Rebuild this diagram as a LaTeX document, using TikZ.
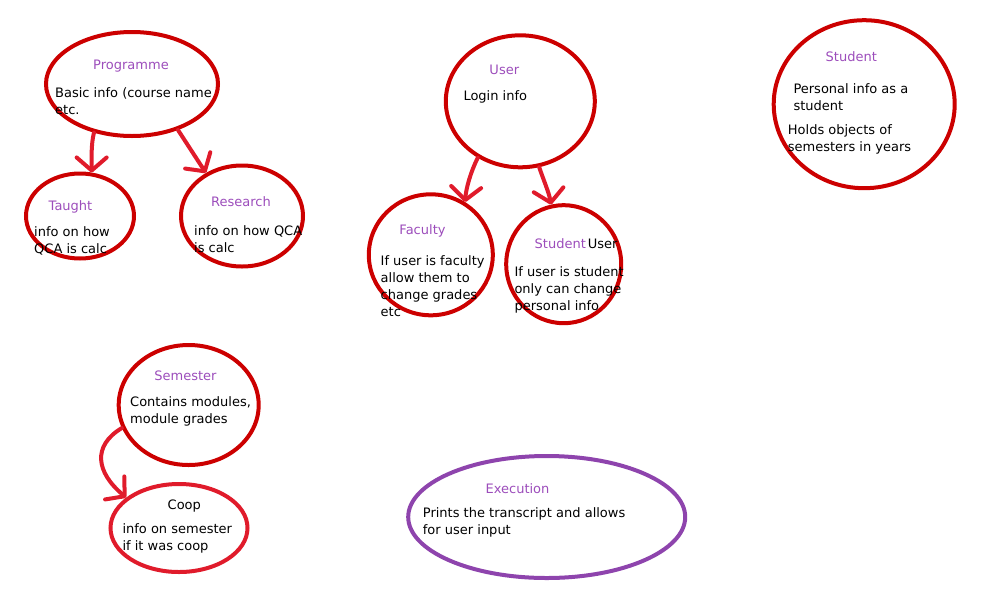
\documentclass[tikz,border=0pt]{standalone}
\usepackage{fontspec}
\setmainfont{DejaVu Sans}
\usetikzlibrary{arrows.meta, shapes.geometric}
\definecolor{bubblered}{HTML}{CC0000}
\definecolor{arrowred}{HTML}{E01B2B}
\definecolor{execpurple}{HTML}{8E44AD}
\definecolor{titlepurple}{HTML}{9C4DBB}

\begin{document}
\begin{tikzpicture}[x=1pt, y=-1pt,
  bubble/.style={ellipse, draw=bubblered, line width=4pt, inner sep=0pt},
  heading/.style={titlepurple, anchor=base, inner sep=0pt, font=\fontsize{13}{17}\selectfont},
  bodytext/.style={black, anchor=base west, align=left, inner sep=0pt, font=\fontsize{13}{17}\selectfont},
  linkarrow/.style={arrowred, line width=4pt, line cap=round, -{Straight Barb[length=13pt, width=30pt, round]}}]
  \useasboundingbox (0,0) rectangle (1000,600);

  % Programme and its two kinds (body texts sit on their last line)
  \node[bubble, minimum width=172pt, minimum height=104pt] (prog) at (132,84) {};
  \node[heading] (progtitle) at (131,69.5) {Programme};
  \node[bodytext] (progtext) at (55,114) {Basic info (course name\\etc.};

  \node[bubble, minimum width=108pt, minimum height=85pt] (taught) at (80,216) {};
  \node[heading] (taughttitle) at (70.5,210.8) {Taught};
  \node[bodytext] (taughttext) at (34,253) {info on how\\QCA is calc};

  \node[bubble, minimum width=122pt, minimum height=101pt] (research) at (242,216) {};
  \node[heading] (researchtitle) at (241,206.5) {Research};
  \node[bodytext] (researchtext) at (194,252.5) {info on how QCA\\is calc};

  % User and its two kinds
  \node[bubble, minimum width=149pt, minimum height=132pt] (user) at (520.3,101.3) {};
  \node[heading] (usertitle) at (504.3,74.8) {User};
  \node[bodytext] (usertext) at (463.3,100.8) {Login info};

  \node[bubble, minimum width=124pt, minimum height=121pt] (faculty) at (430.8,254.8) {};
  \node[heading] (facultytitle) at (422.5,234.8) {Faculty};
  \node[bodytext] (facultytext) at (380.5,316.5) {If user is faculty\\allow them to\\change grades\\etc};

  \node[bubble, minimum width=115pt, minimum height=118pt] (student) at (563.7,264.2) {};
  \node[heading] (studenttitle) at (560.3,248.2) {Student};
  \node[bodytext] (studentuser) at (587.7,248.2) {User};
  \node[bodytext] (studenttext) at (514.3,310.5) {If user is student\\only can change\\personal info};

  % Student record
  \node[bubble, minimum width=181pt, minimum height=168pt] (record) at (864.2,104.2) {};
  \node[heading] (recordtitle) at (851.3,61.5) {Student};
  \node[bodytext] (recordtext) at (793.3,110.2) {Personal info as a\\student};
  \node[bodytext] (recordholds) at (787.7,151.2) {Holds objects of\\semesters in years};

  % Semester and coop
  \node[bubble, minimum width=140pt, minimum height=120pt] (semester) at (188.7,405) {};
  \node[heading] (semestertitle) at (185.5,380.8) {Semester};
  \node[bodytext] (semestertext) at (130,423.5) {Contains modules,\\module grades};

  \node[bubble, draw=arrowred, minimum width=137pt, minimum height=88pt] (coop) at (179,528) {};
  \node[heading, black] (cooptitle) at (184.3,509.8) {Coop};
  \node[bodytext] (cooptext) at (122.3,550.5) {info on semester\\if it was coop};

  % Execution
  \node[bubble, draw=execpurple, minimum width=277pt, minimum height=122pt] (exec) at (546.7,517) {};
  \node[heading] (exectitle) at (517.5,493.8) {Execution};
  \node[bodytext] (exectext) at (422.7,534.5) {Prints the transcript and allows\\for user input};

  % Hand-drawn links
  \draw[linkarrow] (prog.232) .. controls +(-3,12) and +(0,-14) .. (taught.75);
  \draw[linkarrow] (prog.315) -- (research.130);
  \draw[linkarrow] (user.233) .. controls +(-7,14) and +(1,-14) .. (faculty.57);
  \draw[linkarrow] (user.286) .. controls +(4,12) and +(-2,-12) .. (student.102);
  \draw[linkarrow] (semester.199) .. controls +(-30,18) and +(-30,-25) .. (coop.150);
\end{tikzpicture}
\end{document}
